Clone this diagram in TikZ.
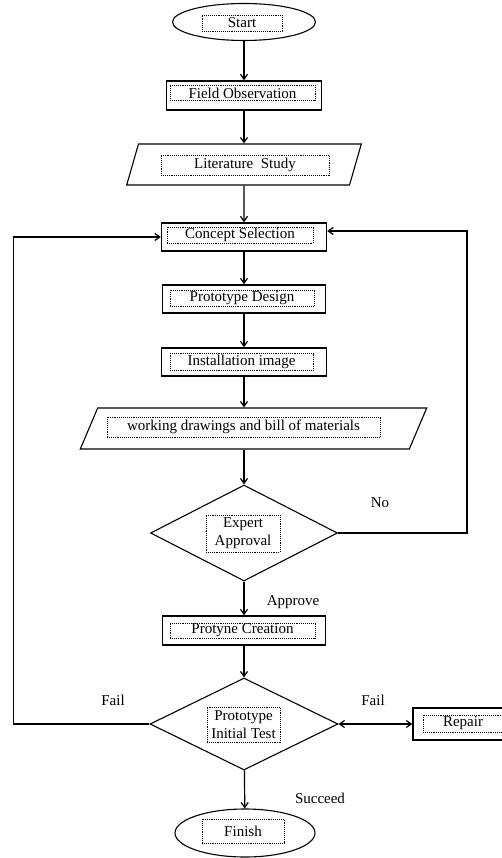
\documentclass[tikz,border=0pt]{standalone}
\usepackage{fontspec}
\setmainfont{Liberation Serif}
\usetikzlibrary{shapes.geometric,arrows.meta}

\begin{document}
\begin{tikzpicture}[x=1pt,y=-1pt,font=\fontsize{15}{18}\selectfont,
  >={Straight Barb[length=5pt,width=7pt]},
  flow/.style={->,line width=1.2pt},
  process/.style={draw,line width=1.4pt,minimum width=163pt,minimum height=28pt,inner sep=0pt},
  terminal/.style={draw,ellipse,line width=1.1pt,minimum width=143pt,minimum height=37pt,inner sep=0pt},
  data/.style={draw,trapezium,trapezium left angle=86,trapezium right angle=94,trapezium stretches=true,line width=1.1pt,minimum height=41pt,inner sep=2pt},
  decision/.style={draw,diamond,line width=1.1pt,minimum width=188pt,minimum height=94pt,inner sep=0pt},
  tag/.style={draw,densely dotted,line width=.9pt,inner sep=0pt,minimum height=16pt},
  note/.style={inner sep=0pt}]
\useasboundingbox (0,0) rectangle (501,858);
% outer shapes
\node[terminal] (start) at (244,22) {};
\node[process,minimum width=155pt,minimum height=29pt] (fo) at (244,95.5) {};
\node[data,minimum width=235pt] (lit) at (244,164.5) {\phantom{M}};
\node[process,minimum width=165pt] (cs) at (244,237) {};
\node[process] (pd) at (244,299) {};
\node[process,minimum width=165pt] (ii) at (244,362) {};
\node[data,minimum width=347pt] (wd) at (253.5,428.5) {\phantom{M}};
\node[decision,minimum height=96pt,minimum width=187pt] (ea) at (244,533) {};
\node[process,minimum height=29pt] (pc) at (244,630.5) {};
\node[decision,minimum height=92pt] (pt) at (244,724) {};
\node[process,minimum width=100pt,minimum height=32pt] (rep) at (463,724) {};
\node[terminal,minimum width=140pt,minimum height=48pt] (fin) at (245,833) {};
% dotted text boxes
\node[tag,minimum width=80pt] (start-t) at (242,23) {Start};
\node[tag,minimum width=145pt,minimum height=15pt] (fo-t) at (242.5,93) {Field Observation};
\node[tag,minimum width=168pt,minimum height=20pt] (lit-t) at (245,165) {Literature\ \ Study};
\node[tag,minimum width=146pt] (cs-t) at (240,235) {Concept Selection};
\node[tag,minimum width=144pt] (pd-t) at (242,298) {Prototype Design};
\node[tag,minimum width=143pt,minimum height=17pt] (ii-t) at (241.5,362) {Installation image};
\node[tag,minimum width=273pt,minimum height=20pt] (wd-t) at (243.5,427) {working drawings and bill of materials};
\node[tag,minimum width=74pt,minimum height=37pt,align=center] (ea-t) at (243,533.5) {Expert\\Approval};
\node[tag,minimum width=145pt,minimum height=15pt] (pc-t) at (242.5,630.5) {Protyne Creation};
\node[tag,minimum width=73pt,minimum height=35pt,align=center] (pt-t) at (243.5,724.5) {Prototype\\Initial Test};
\node[tag,minimum width=80pt,minimum height=17pt] (rep-t) at (463,723.5) {Repair};
\node[tag,minimum width=82pt,minimum height=24pt] (fin-t) at (243,831) {Finish};
% labels
\node[note] (no) at (380,503) {No};
\node[note] (approve) at (293,602) {Approve};
\node[note] (fail-l) at (113,700) {Fail};
\node[note] (fail-r) at (373,700) {Fail};
\node[note] (succeed) at (320,798) {Succeed};
% connectors
\foreach \a/\b in {start/fo,fo/lit,lit/cs,cs/pd,pd/ii,ea/pc,pc/pt,pt/fin}
  \draw[flow] (\a) -- (\b);
\draw[flow] (ii.south) -- (ii.south |- wd.north);
\draw[flow] (ea.north |- wd.south) -- (ea.north);
\draw[flow] (ea.east) -- ++(129,0) |- ([yshift=6pt]cs.east);
\draw[flow] (pt.west) -- ++(-136,0) |- (cs.west);
\draw[flow,<->] (pt.east) -- (rep.west);
\end{tikzpicture}
\end{document}
